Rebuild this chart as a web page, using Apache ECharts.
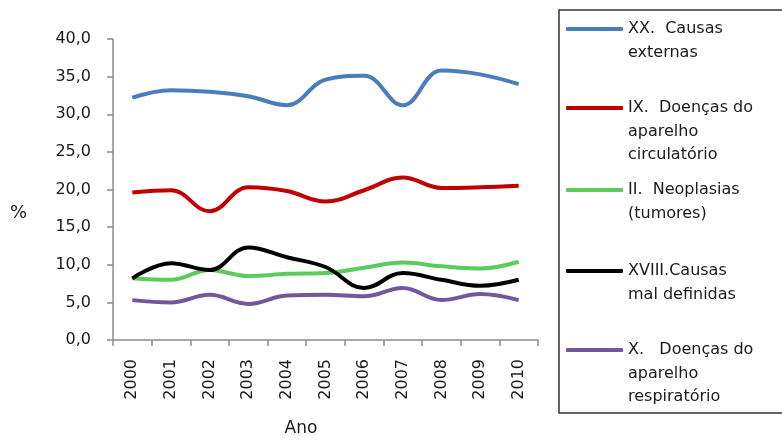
<!DOCTYPE html>
<html>
<head>
<meta charset="utf-8">
<script src="https://cdn.jsdelivr.net/npm/echarts@6/dist/echarts.min.js"></script>
<style>
html,body{margin:0;padding:0;background:#fff;}
#c{width:782px;height:442px;}
</style>
</head>
<body>
<div id="c"></div>
<script>
const years = ['2000','2001','2002','2003','2004','2005','2006','2007','2008','2009','2010'];
const yTicks = [0, 5, 10, 15, 20, 25, 30, 35, 40];
const externas = [32.2, 33.2, 33.0, 32.4, 31.2, 34.6, 35.1, 31.2, 35.8, 35.3, 34.0];
const circulatorio = [19.6, 19.9, 17.1, 20.3, 19.8, 18.4, 19.9, 21.6, 20.2, 20.3, 20.5];
const neoplasias = [8.2, 8.0, 9.3, 8.5, 8.8, 8.9, 9.6, 10.3, 9.8, 9.5, 10.4];
const malDefinidas = [8.2, 10.2, 9.3, 12.3, 11.0, 9.7, 6.9, 8.9, 8.0, 7.2, 8.0];
const respiratorio = [5.3, 5.0, 6.0, 4.8, 5.9, 6.0, 5.8, 6.9, 5.3, 6.1, 5.3];

const names = ['XX.  Causas externas', 'IX.  Doenças do aparelho circulatório', 'II.  Neoplasias (tumores)', 'XVIII.Causas mal definidas', 'X.   Doenças do aparelho respiratório'];
const legendLines = [
  ['XX.  Causas', 'externas'],
  ['IX.  Doenças do', 'aparelho', 'circulatório'],
  ['II.  Neoplasias', '(tumores)'],
  ['XVIII.Causas', 'mal definidas'],
  ['X.   Doenças do', 'aparelho', 'respiratório']
];
const values = [externas, circulatorio, neoplasias, malDefinidas, respiratorio];
const colors = ['#4a7ebb', '#c00000', '#5ccb5c', '#000000', '#72589a'];
const legendY = [29, 108, 190, 271, 350];

const LH = 23.5;
const FONT = 'DejaVu Sans';

const legends = names.map((n, i) => {
  const lines = legendLines[i];
  const blanks = lines.length - 1;
  return {
    data: [n],
    orient: 'vertical',
    left: 566,
    top: legendY[i] - (blanks + 0.5) * LH,
    padding: 0,
    itemWidth: 57,
    itemHeight: 4,
    icon: 'roundRect',
    selectedMode: false,
    formatter: () => '\n'.repeat(blanks) + lines.join('\n'),
    textStyle: { fontFamily: FONT, fontSize: 16, color: '#1a1a1a', lineHeight: LH }
  };
});

const chart = echarts.init(document.getElementById('c'), null, { renderer: 'canvas' });
chart.setOption({
  animation: false,
  backgroundColor: '#fff',
  grid: { left: 113, right: 244, top: 39, bottom: 98, containLabel: false },
  legend: legends,
  graphic: [{
    type: 'rect',
    shape: { x: 559, y: 10, width: 400, height: 403 },
    style: { fill: 'none', stroke: '#333', lineWidth: 1.5 },
    silent: true
  }],
  xAxis: {
    type: 'category',
    data: years,
    boundaryGap: true,
    name: 'Ano',
    nameLocation: 'middle',
    nameGap: 80,
    nameTextStyle: { fontFamily: FONT, fontSize: 17, color: '#1a1a1a', padding: [0, 49, 0, 0] },
    axisLine: { lineStyle: { color: '#8c8c8c', width: 1.5 } },
    axisTick: { show: true, length: 6, lineStyle: { color: '#8c8c8c', width: 1.5 } },
    axisLabel: { rotate: 90, margin: 19, fontFamily: FONT, fontSize: 16, color: '#1a1a1a' }
  },
  yAxis: {
    type: 'value',
    min: yTicks[0],
    max: yTicks[yTicks.length - 1],
    interval: 5,
    name: '\n%',
    nameLocation: 'middle',
    nameRotate: 0,
    nameGap: 86,
    nameTextStyle: { fontFamily: FONT, fontSize: 18, color: '#1a1a1a', lineHeight: 48 },
    splitLine: { show: false },
    axisLine: { show: true, lineStyle: { color: '#8c8c8c', width: 1.5 } },
    axisTick: { show: true, length: 6, lineStyle: { color: '#8c8c8c', width: 1.5 } },
    axisLabel: {
      margin: 22, fontFamily: FONT, fontSize: 16, color: '#1a1a1a',
      formatter: v => v.toFixed(1).replace('.', ',')
    }
  },
  series: names.map((n, i) => ({
    name: n,
    type: 'line',
    data: values[i],
    smooth: 0.4,
    showSymbol: false,
    symbol: 'none',
    color: colors[i],
    lineStyle: { width: 4, color: colors[i] }
  }))
});
</script>
</body>
</html>
